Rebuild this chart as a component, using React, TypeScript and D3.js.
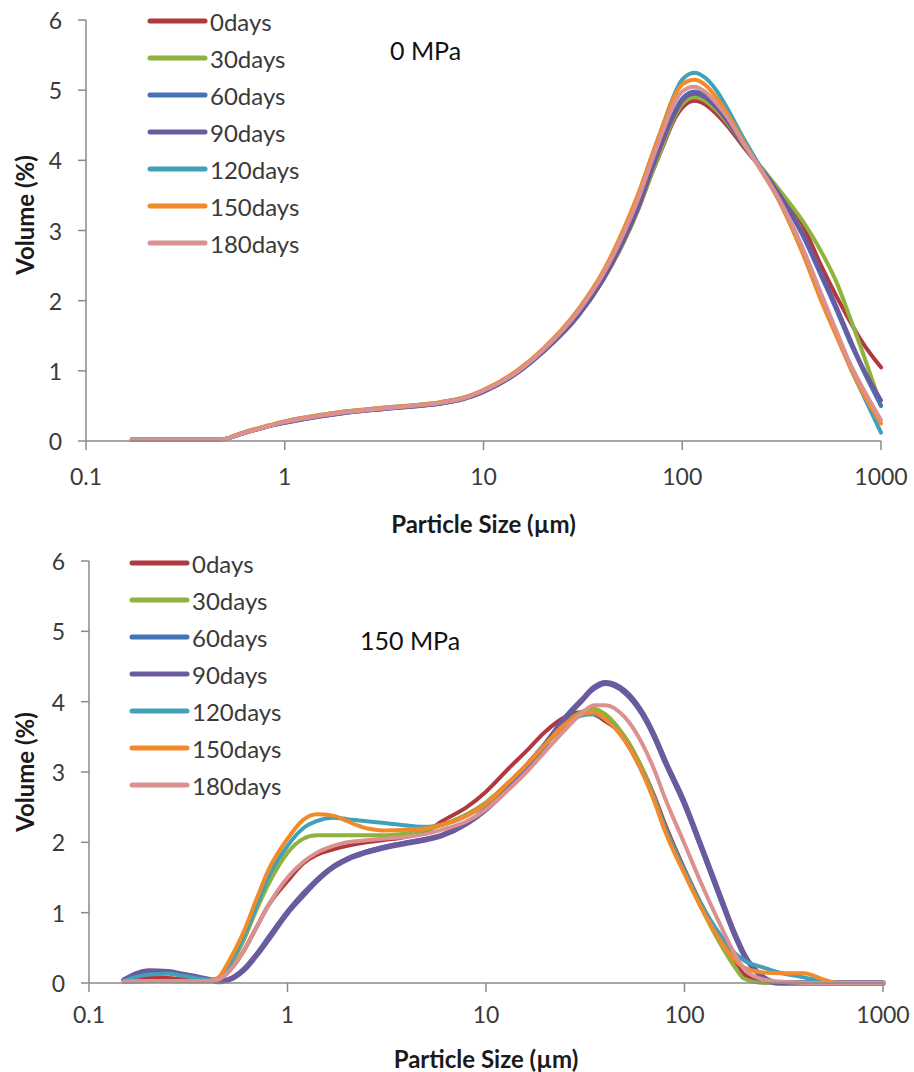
import React from "react";
import * as d3 from "d3";

const SERIES_NAMES = ["0days", "30days", "60days", "90days", "120days", "150days", "180days"];
const SERIES_COLORS = ["#B0393D", "#8FB33E", "#4672B6", "#6C5A9E", "#3FA2BA", "#F28A2A", "#DA918F"];
const X_TICKS = [0.1, 1, 10, 100, 1000];
const X_TICK_LABELS = ["0.1", "1", "10", "100", "1000"];
const Y_TICKS = [0, 1, 2, 3, 4, 5, 6];

// 0 MPa
const TOP_SIZES = [0.17, 0.2, 0.3, 0.45, 0.5, 0.6, 0.8, 1, 1.5, 2, 3, 4, 6, 8, 10, 15, 20, 30, 40, 50, 60, 70, 80, 90, 100, 115, 130, 150, 170, 200, 250, 300, 400, 500, 600, 700, 800, 1000];
const TOP_0 = [0.02, 0.02, 0.02, 0.02, 0.03, 0.1, 0.2, 0.27, 0.36, 0.41, 0.46, 0.49, 0.54, 0.61, 0.72, 1.0, 1.28, 1.8, 2.3, 2.8, 3.3, 3.8, 4.2, 4.55, 4.75, 4.85, 4.8, 4.65, 4.48, 4.22, 3.88, 3.6, 3.1, 2.5, 2.05, 1.7, 1.42, 1.05];
const TOP_30 = [0.02, 0.02, 0.02, 0.02, 0.03, 0.1, 0.2, 0.27, 0.36, 0.41, 0.46, 0.49, 0.54, 0.61, 0.72, 1.0, 1.28, 1.8, 2.3, 2.8, 3.3, 3.8, 4.22, 4.58, 4.8, 4.9, 4.85, 4.7, 4.52, 4.25, 3.9, 3.62, 3.15, 2.7, 2.25, 1.75, 1.3, 0.5];
const TOP_60 = [0.02, 0.02, 0.02, 0.02, 0.03, 0.1, 0.2, 0.26, 0.35, 0.4, 0.45, 0.48, 0.53, 0.6, 0.7, 0.98, 1.27, 1.8, 2.32, 2.85, 3.35, 3.88, 4.3, 4.65, 4.88, 4.98, 4.93, 4.75, 4.55, 4.25, 3.88, 3.55, 2.95, 2.35, 1.85, 1.4, 1.05, 0.5];
const TOP_90 = [0.02, 0.02, 0.02, 0.02, 0.03, 0.1, 0.2, 0.26, 0.35, 0.4, 0.45, 0.48, 0.53, 0.6, 0.7, 0.98, 1.27, 1.78, 2.3, 2.82, 3.32, 3.85, 4.28, 4.62, 4.85, 4.95, 4.9, 4.74, 4.55, 4.25, 3.88, 3.57, 2.98, 2.4, 1.9, 1.45, 1.08, 0.58];
const TOP_120 = [0.02, 0.02, 0.02, 0.02, 0.03, 0.11, 0.21, 0.28, 0.37, 0.42, 0.47, 0.5, 0.55, 0.62, 0.72, 1.0, 1.3, 1.85, 2.4, 2.95, 3.5, 4.05, 4.5, 4.9, 5.15, 5.25, 5.18, 4.98, 4.72, 4.35, 3.88, 3.48, 2.72, 2.05, 1.5, 1.05, 0.7, 0.12];
const TOP_150 = [0.02, 0.02, 0.02, 0.02, 0.03, 0.11, 0.21, 0.28, 0.37, 0.42, 0.47, 0.5, 0.55, 0.62, 0.73, 1.02, 1.32, 1.88, 2.42, 2.98, 3.52, 4.05, 4.5, 4.88, 5.08, 5.15, 5.08, 4.88, 4.65, 4.3, 3.85, 3.48, 2.7, 2.0, 1.48, 1.05, 0.72, 0.25];
const TOP_180 = [0.02, 0.02, 0.02, 0.02, 0.03, 0.1, 0.2, 0.27, 0.36, 0.41, 0.46, 0.49, 0.54, 0.61, 0.72, 1.0, 1.3, 1.85, 2.38, 2.92, 3.45, 3.98, 4.42, 4.78, 4.98, 5.05, 4.98, 4.8, 4.6, 4.27, 3.86, 3.5, 2.78, 2.1, 1.55, 1.1, 0.78, 0.3];

// 150 MPa
const BOT_SIZES = [0.15, 0.2, 0.25, 0.3, 0.4, 0.45, 0.5, 0.6, 0.7, 0.8, 1, 1.2, 1.4, 1.7, 2, 2.5, 3, 4, 5, 6, 8, 10, 13, 16, 20, 25, 30, 35, 40, 50, 60, 70, 80, 100, 120, 150, 180, 200, 250, 300, 400, 500, 600, 800, 1000];
const BOT_0 = [0.05, 0.08, 0.07, 0.05, 0.03, 0.05, 0.15, 0.45, 0.8, 1.1, 1.45, 1.7, 1.82, 1.9, 1.95, 2.0, 2.03, 2.08, 2.15, 2.3, 2.5, 2.72, 3.05, 3.3, 3.58, 3.78, 3.85, 3.82, 3.72, 3.5, 3.1, 2.68, 2.25, 1.62, 1.15, 0.65, 0.3, 0.12, 0.02, 0, 0, 0, 0, 0, 0];
const BOT_30 = [0.02, 0.03, 0.03, 0.02, 0.02, 0.05, 0.2, 0.6, 1.05, 1.4, 1.85, 2.05, 2.1, 2.1, 2.1, 2.1, 2.1, 2.13, 2.18, 2.25, 2.4, 2.57, 2.85, 3.1, 3.4, 3.7, 3.85, 3.9, 3.82, 3.5, 3.1, 2.65, 2.2, 1.58, 1.1, 0.58, 0.22, 0.06, 0, 0, 0, 0, 0, 0, 0];
const BOT_60 = [0.05, 0.15, 0.15, 0.12, 0.05, 0.03, 0.05, 0.2, 0.42, 0.65, 1.02, 1.28, 1.47, 1.66, 1.77, 1.87, 1.93, 2.0, 2.05, 2.1, 2.28, 2.48, 2.8, 3.1, 3.42, 3.78, 4.02, 4.18, 4.25, 4.12, 3.85, 3.5, 3.12, 2.52, 1.95, 1.22, 0.65, 0.38, 0.08, 0, 0, 0, 0, 0, 0];
const BOT_90 = [0.04, 0.17, 0.16, 0.12, 0.05, 0.02, 0.04, 0.18, 0.4, 0.62, 1.0, 1.25, 1.45, 1.65, 1.76, 1.86, 1.92, 1.99, 2.04, 2.1, 2.27, 2.47, 2.78, 3.08, 3.4, 3.76, 4.0, 4.2, 4.27, 4.15, 3.88, 3.53, 3.15, 2.56, 1.98, 1.26, 0.68, 0.4, 0.08, 0, 0, 0, 0, 0, 0];
const BOT_120 = [0.03, 0.12, 0.13, 0.1, 0.05, 0.06, 0.22, 0.65, 1.1, 1.5, 1.95, 2.2, 2.3, 2.35, 2.33, 2.3, 2.28, 2.24, 2.22, 2.25, 2.38, 2.55, 2.85, 3.1, 3.4, 3.65, 3.8, 3.82, 3.75, 3.45, 3.05, 2.62, 2.2, 1.6, 1.15, 0.7, 0.42, 0.32, 0.22, 0.15, 0.08, 0.02, 0, 0, 0];
const BOT_150 = [0.02, 0.03, 0.03, 0.03, 0.03, 0.08, 0.28, 0.72, 1.2, 1.6, 2.05, 2.32, 2.4, 2.38, 2.3, 2.2, 2.17, 2.18, 2.2, 2.25, 2.38, 2.55, 2.85, 3.1, 3.4, 3.68, 3.82, 3.85, 3.75, 3.45, 3.05, 2.6, 2.15, 1.55, 1.1, 0.62, 0.32, 0.22, 0.15, 0.14, 0.14, 0.05, 0, 0, 0];
const BOT_180 = [0.02, 0.03, 0.03, 0.03, 0.03, 0.05, 0.15, 0.45, 0.8, 1.1, 1.5, 1.72, 1.85, 1.95, 2.0, 2.03, 2.05, 2.08, 2.12, 2.18, 2.3, 2.47, 2.75, 3.0, 3.3, 3.6, 3.82, 3.95, 3.95, 3.78, 3.45, 3.05, 2.62, 1.98, 1.45, 0.85, 0.4, 0.2, 0.05, 0.02, 0, 0, 0, 0, 0];

const TOP_SERIES = [TOP_0, TOP_30, TOP_60, TOP_90, TOP_120, TOP_150, TOP_180];
const BOT_SERIES = [BOT_0, BOT_30, BOT_60, BOT_90, BOT_120, BOT_150, BOT_180];

const FONT = "Lato, 'Open Sans', sans-serif";
const AXIS_COLOR = "#8a8a8a";
const TEXT_COLOR = "#3a3a3a";

type PanelProps = {
  sizes: number[];
  series: number[][];
  x0: number; x1: number; y0: number; y1: number;
  title: string; titleX: number; titleY: number;
  legendX: number; legendY: number;
  ylabelY: number; xlabelY: number; tickLabelDy: number;
  thickIndex: number;
};

function Panel(p: PanelProps) {
  const x = d3.scaleLog().domain([0.1, 1000]).range([p.x0, p.x1]);
  const y = d3.scaleLinear().domain([0, 6]).range([p.y0, p.y1]);
  const line = d3
    .line<[number, number]>()
    .x((d) => x(d[0]))
    .y((d) => y(d[1]))
    .curve(d3.curveMonotoneX);
  return (
    <g>
      {p.series.map((vals, i) => (
        <path
          key={i}
          d={line(p.sizes.map((s, k) => [s, vals[k]] as [number, number])) || ""}
          fill="none"
          stroke={SERIES_COLORS[i]}
          strokeWidth={i === p.thickIndex ? 5.5 : 4}
          strokeLinejoin="round"
          strokeLinecap="round"
        />
      ))}
      {/* y axis */}
      <line x1={p.x0} x2={p.x0} y1={p.y0} y2={p.y1} stroke={AXIS_COLOR} strokeWidth={1.5} />
      {Y_TICKS.map((t) => (
        <g key={t}>
          <line x1={p.x0 - 8} x2={p.x0} y1={y(t)} y2={y(t)} stroke={AXIS_COLOR} strokeWidth={1.5} />
          <text x={p.x0 - 24} y={y(t)} textAnchor="end" dominantBaseline="central" fontFamily={FONT} fontSize={23} fill={TEXT_COLOR}>
            {t}
          </text>
        </g>
      ))}
      {/* x axis */}
      <line x1={p.x0} x2={p.x1} y1={p.y0} y2={p.y0} stroke={AXIS_COLOR} strokeWidth={1.5} />
      {X_TICKS.map((t, i) => (
        <g key={t}>
          <line x1={x(t)} x2={x(t)} y1={p.y0} y2={p.y0 + 9} stroke={AXIS_COLOR} strokeWidth={1.5} />
          <text x={x(t)} y={p.y0 + p.tickLabelDy} textAnchor="middle" dominantBaseline="central" fontFamily={FONT} fontSize={23} fill={TEXT_COLOR}>
            {X_TICK_LABELS[i]}
          </text>
        </g>
      ))}
      <text x={(p.x0 + p.x1) / 2} y={p.xlabelY} textAnchor="middle" dominantBaseline="central" fontFamily={FONT} fontSize={24} fontWeight="bold" fill="#1a1a1a">
        Particle Size (µm)
      </text>
      <text
        transform={`translate(24,${p.ylabelY}) rotate(-90)`}
        textAnchor="middle"
        dominantBaseline="central"
        fontFamily={FONT}
        fontSize={24}
        fontWeight="bold"
        fill="#1a1a1a"
      >
        Volume (%)
      </text>
      <text x={p.titleX} y={p.titleY} dominantBaseline="central" fontFamily={FONT} fontSize={25} fill="#111">
        {p.title}
      </text>
      {SERIES_NAMES.map((n, i) => (
        <g key={n} transform={`translate(${p.legendX},${p.legendY + i * 37})`}>
          <line x1={0} x2={55} y1={0} y2={0} stroke={SERIES_COLORS[i]} strokeWidth={5} strokeLinecap="round" />
          <text x={60} y={0} dominantBaseline="central" fontFamily={FONT} fontSize={24} fill={TEXT_COLOR}>
            {n}
          </text>
        </g>
      ))}
    </g>
  );
}

export default function App() {
  return (
    <svg width={914} height={1072} style={{ position: "absolute", left: 0, top: 0, background: "#fff" }}>
      <rect width={914} height={1072} fill="#fff" />
      <Panel
        sizes={TOP_SIZES}
        series={TOP_SERIES}
        x0={86} x1={881} y0={441} y1={20}
        title="0 MPa" titleX={390} titleY={50}
        legendX={150} legendY={21}
        ylabelY={215} xlabelY={523} tickLabelDy={35}
        thickIndex={-1}
      />
      <Panel
        sizes={BOT_SIZES}
        series={BOT_SERIES}
        x0={89} x1={883} y0={983} y1={561}
        title="150 MPa" titleX={360} titleY={640}
        legendX={132} legendY={563}
        ylabelY={772} xlabelY={1058} tickLabelDy={31}
        thickIndex={3}
      />
    </svg>
  );
}
